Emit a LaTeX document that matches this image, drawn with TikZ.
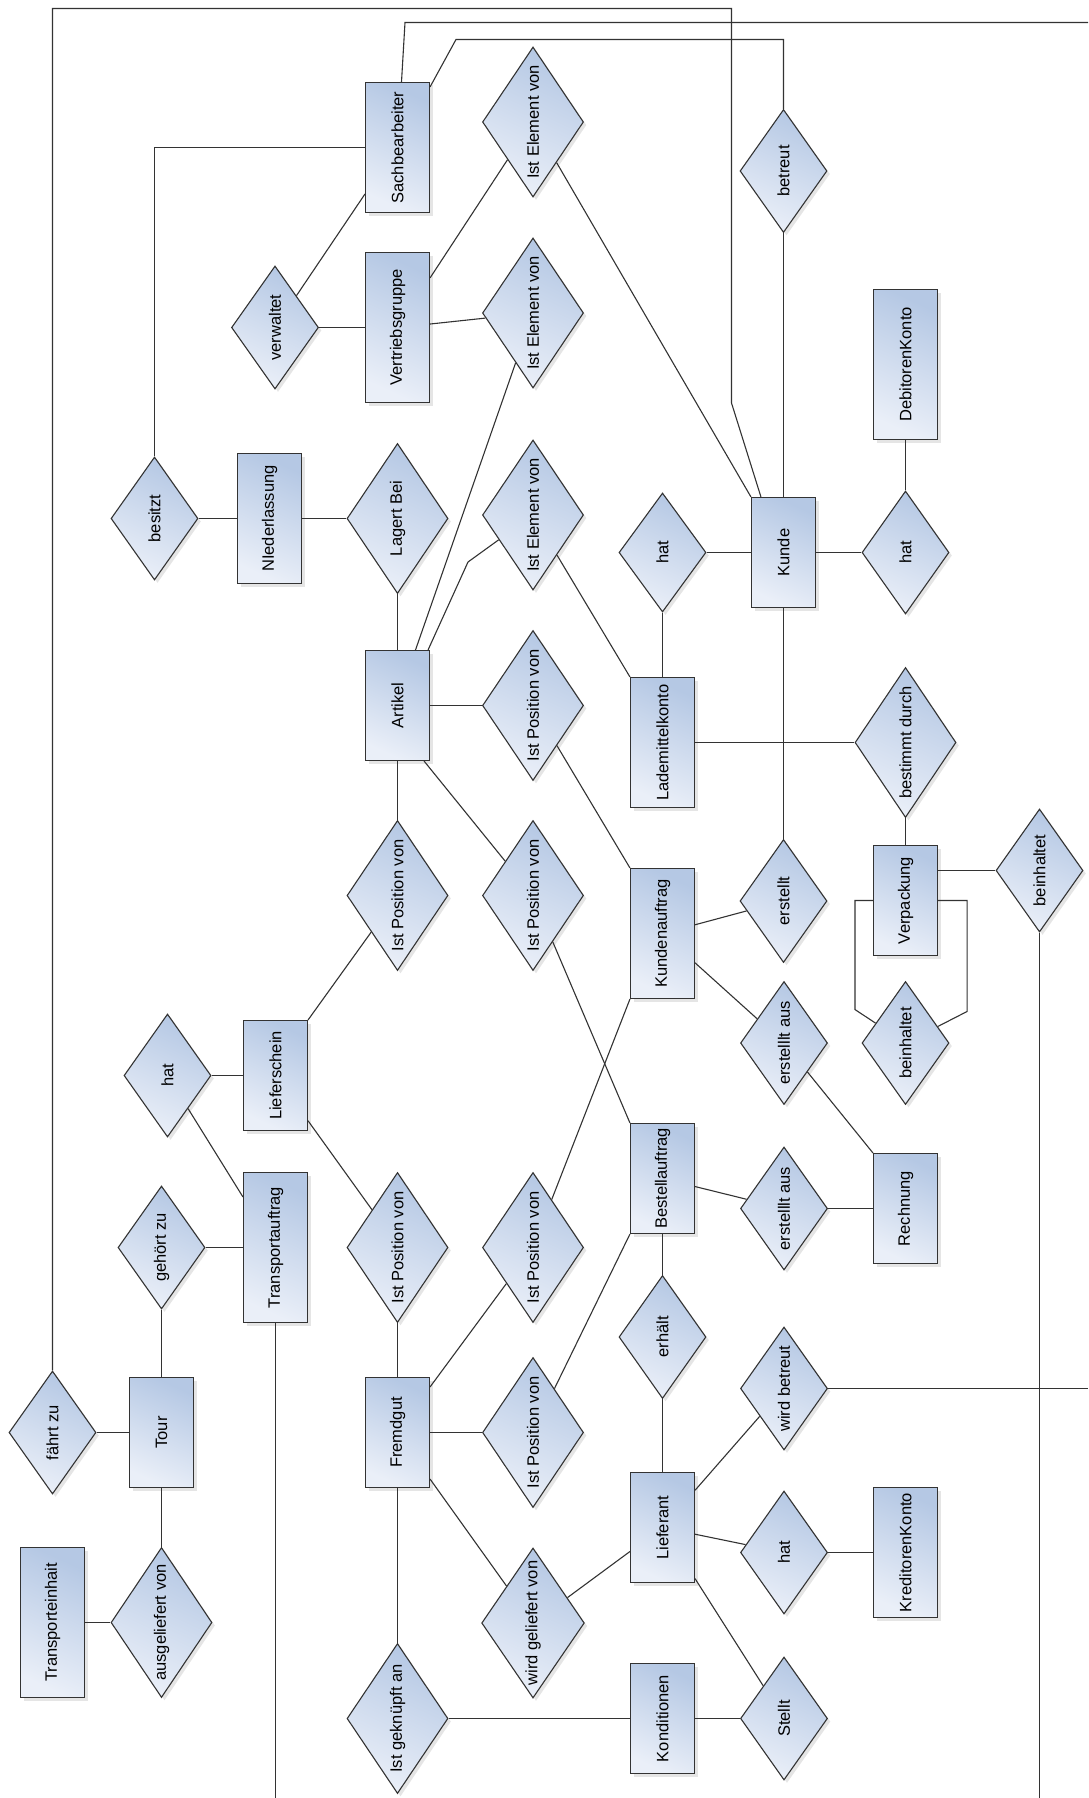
\documentclass[tikz,border=0pt]{standalone}
\usepackage{fontspec}
\setmainfont{Liberation Sans}
\usepackage{graphicx}
\usepackage{tikz}
\usetikzlibrary{shapes.geometric,shadows,calc}

\definecolor{erTop}{RGB}{181,200,228}
\definecolor{erBot}{RGB}{234,239,248}
\definecolor{erLine}{RGB}{51,51,51}
\newcommand{\rotlbl}[1]{\rotatebox{90}{#1}}

\begin{document}
\begin{tikzpicture}[
  x=1pt, y=-1pt,
  font=\fontsize{16.5}{19}\selectfont,
  erbase/.style={draw=erLine,line width=1.1pt,inner sep=0pt,top color=erTop,bottom color=erBot,shading angle=-25,
    drop shadow={shadow xshift=3pt,shadow yshift=-3pt,opacity=0.2}},
  ent/.style={erbase,rectangle,minimum width=64pt,minimum height=110pt},
  rel/.style={erbase,diamond,aspect=0.7,minimum width=87pt,minimum height=123pt},
  relwide/.style={rel,minimum width=101pt,minimum height=150pt},
  link/.style={draw=erLine,line width=1.1pt}
]
\path[fill=white] (0,0) rectangle (1088,1798);
\useasboundingbox (0,0) rectangle (1088,1798);

% entities
\node[ent,minimum height=130pt] (sach) at (397.5,147.5) {\rotlbl{Sachbearbeiter}};
\node[ent,minimum height=150pt] (vertrieb) at (397.5,327.5) {\rotlbl{Vertriebsgruppe}};
\node[ent,minimum height=130pt] (nieder) at (269.5,518.5) {\rotlbl{NIederlassung}};
\node[ent] (artikel) at (397.5,705.5) {\rotlbl{Artikel}};
\node[ent] (kunde) at (783.5,552.5) {\rotlbl{Kunde}};
\node[ent,minimum height=150pt] (debitor) at (905.5,364.5) {\rotlbl{DebitorenKonto}};
\node[ent,minimum height=130pt] (lademittel) at (662.5,742.5) {\rotlbl{Lademittelkonto}};
\node[ent,minimum height=130pt] (kauftrag) at (662.5,933.5) {\rotlbl{Kundenauftrag}};
\node[ent] (verpackung) at (905.5,900.5) {\rotlbl{Verpackung}};
\node[ent] (liefersch) at (275.5,1075.5) {\rotlbl{Lieferschein}};
\node[ent,minimum height=150pt] (transp) at (275.5,1247.5) {\rotlbl{Transportauftrag}};
\node[ent] (bestell) at (662.5,1178.5) {\rotlbl{Bestellauftrag}};
\node[ent] (rechnung) at (905.5,1208.5) {\rotlbl{Rechnung}};
\node[ent] (tour) at (161.5,1432.5) {\rotlbl{Tour}};
\node[ent,minimum height=150pt] (transeinh) at (52.5,1622.5) {\rotlbl{Transporteinhait}};
\node[ent] (fremdgut) at (397.5,1432.5) {\rotlbl{Fremdgut}};
\node[ent] (lieferant) at (662.5,1527.5) {\rotlbl{Lieferant}};
\node[ent,minimum height=130pt] (kreditor) at (905.5,1552.5) {\rotlbl{KreditorenKonto}};
\node[ent] (kondition) at (662.5,1718.5) {\rotlbl{Konditionen}};

% relationships
\node[rel] (besitzt) at (154.5,518.5) {\rotlbl{besitzt}};
\node[rel] (verwaltet) at (275,327.5) {\rotlbl{verwaltet}};
\node[relwide] (ielA) at (533,122) {\rotlbl{Ist Element von}};
\node[relwide] (ielB) at (533,313) {\rotlbl{Ist Element von}};
\node[relwide] (ielC) at (533,515) {\rotlbl{Ist Element von}};
\node[relwide] (lagert) at (397.5,518.5) {\rotlbl{Lagert Bei}};
\node[rel] (betreut) at (783.5,171) {\rotlbl{betreut}};
\node[rel,minimum height=119pt] (hatK) at (662.5,552.5) {\rotlbl{hat}};
\node[rel] (hatD) at (905.5,552.5) {\rotlbl{hat}};
\node[relwide] (ipA) at (533,705.5) {\rotlbl{Ist Position von}};
\node[relwide] (ipB) at (397.5,895.5) {\rotlbl{Ist Position von}};
\node[relwide] (ipC) at (533,895.5) {\rotlbl{Ist Position von}};
\node[relwide] (bestimmt) at (905.5,742.5) {\rotlbl{bestimmt durch}};
\node[rel] (erstellt) at (783.5,901) {\rotlbl{erstellt}};
\node[rel] (erstaus1) at (784,1043) {\rotlbl{erstelllt aus}};
\node[rel] (beinhR) at (1039.5,870.5) {\rotlbl{beinhaltet}};
\node[rel] (beinhL) at (905.5,1043) {\rotlbl{beinhaltet}};
\node[rel] (hatL) at (167.5,1075.5) {\rotlbl{hat}};
\node[rel] (gehoert) at (161.5,1247.5) {\rotlbl{gehört zu}};
\node[relwide] (ipD) at (397.5,1247.5) {\rotlbl{Ist Position von}};
\node[relwide] (ipE) at (533,1247.5) {\rotlbl{Ist Position von}};
\node[rel] (erstaus2) at (784,1208.5) {\rotlbl{erstelllt aus}};
\node[rel] (faehrt) at (52.5,1432.5) {\rotlbl{fährt zu}};
\node[relwide] (ausgel) at (161.5,1622.5) {\rotlbl{ausgeliefert von}};
\node[relwide] (ipF) at (533,1432.5) {\rotlbl{Ist Position von}};
\node[relwide] (wirdgel) at (533,1623) {\rotlbl{wird geliefert von}};
\node[relwide] (geknuepft) at (397.5,1718.5) {\rotlbl{Ist geknüpft an}};
\node[rel] (erhaelt) at (662.5,1337) {\rotlbl{erhält}};
\node[rel] (wbetreut) at (784,1388.5) {\rotlbl{wird betreut}};
\node[rel] (hatKr) at (784,1552.5) {\rotlbl{hat}};
\node[rel] (stellt) at (784,1718.5) {\rotlbl{Stellt}};

% straight links between node centres
\foreach \a/\b in {besitzt/nieder,nieder/lagert,lagert/artikel,verwaltet/vertrieb,vertrieb/ielB,
  betreut/kunde,hatK/kunde,hatK/lademittel,kunde/hatD,hatD/debitor,artikel/ipA,artikel/ipB,
  lademittel/bestimmt,bestimmt/verpackung,kunde/erstellt,kauftrag/erstellt,kauftrag/erstaus1,
  bestell/erstaus2,erstaus2/rechnung,bestell/erhaelt,erhaelt/lieferant,hatL/liefersch,
  gehoert/transp,gehoert/tour,faehrt/tour,tour/ausgel,transeinh/ausgel,ipD/fremdgut,
  fremdgut/ipF,fremdgut/geknuepft,geknuepft/kondition,kondition/stellt,lieferant/wbetreut,
  lieferant/hatKr,hatKr/kreditor,lieferant/wirdgel,lieferant/stellt}{
  \draw[link] (\a) -- (\b);
}

% links that meet a box off its centre line
\draw[link] (vertrieb) -- (ielA.south west);
\draw[link] (ielA) -- (kunde.north west);
\draw[link] (verwaltet) -- ([yshift=19pt]sach.south west);
\draw[link] (ielB) -- ([xshift=18pt]artikel.north);
\draw[link] (ielC) -- (468,562) -- ([xshift=-2pt]artikel.north east);
\draw[link] (ielC) -- (lademittel.north west);
\draw[link] (ipA) -- (kauftrag.north west);
\draw[link] (ipC) -- ([xshift=-6pt]artikel.south east);
\draw[link] (ipC) -- (bestell.north west);
\draw[link] (ipB) -- (liefersch.north east);
\draw[link] (hatL) -- ([yshift=-25pt]transp.north west);
\draw[link] (liefersch) -- (ipD.north west);
\draw[link] (ipE) -- ([yshift=-10pt]fremdgut.north east);
\draw[link] (ipE) -- (kauftrag.south west);
\draw[link] (erstaus1) -- (rechnung.north west);
\draw[link] (ipF) -- (bestell.south west);
\draw[link] (wirdgel) -- ([yshift=9pt]fremdgut.south east);

% Verpackung and its two "beinhaltet"
\draw[link] (verpackung.east |- beinhR) -- (beinhR);
\draw[link] (verpackung.west) -- ++(-18,0) -- ++(0,109) -- (beinhL);
\draw[link] (verpackung.east) -- ++(29,0) -- ++(0,111) -- (beinhL);

% long lines, some leave the sheet
\draw[link] (sach.west) -| (besitzt.north);
\draw[link] (faehrt) -- (faehrt |- 0,8.5) -| (731.5,403) -- ([xshift=10pt]kunde.north west);
\draw[link] ([xshift=4pt]sach.north) -- (405,22.5) -- (1088,22.5);
\draw[link] ([yshift=-5pt]sach.north east) -- (456,39.5) -| (betreut.north);
\draw[link] (transp) -- (transp |- 0,1798);
\draw[link] (beinhR) -- (beinhR |- 0,1798);
\draw[link] (wbetreut) -- (wbetreut -| 1088,0);

\end{tikzpicture}
\end{document}
